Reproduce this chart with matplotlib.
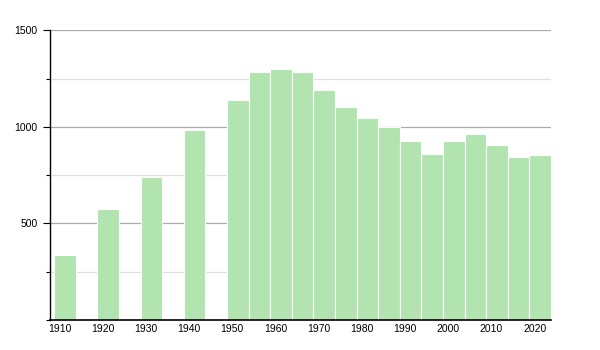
import matplotlib.pyplot as plt
from matplotlib.ticker import MultipleLocator

# population by census year (bar covers year .. year+5)
years = [1910, 1920, 1930, 1940, 1950, 1955, 1960, 1965, 1970, 1975, 1980,
         1985, 1990, 1995, 2000, 2005, 2010, 2015, 2020]
values = [338, 575, 741, 983, 1138, 1285, 1298, 1285, 1190, 1102, 1045,
          998, 926, 862, 926, 962, 905, 843, 854]
tick_years = [1910, 1920, 1930, 1940, 1950, 1960, 1970, 1980, 1990, 2000, 2010, 2020]

plt.rcParams['font.family'] = ['Liberation Sans', 'DejaVu Sans']

fig = plt.figure(figsize=(6, 3.5), dpi=100)
ax = fig.add_axes([0.0833, 0.0857, 0.835, 0.8277])

ax.bar(years, values, width=5, align='edge', color='#b2e4b0',
       edgecolor='white', linewidth=0.8, zorder=2)

ax.set_xlim(1909, 2025)
ax.set_ylim(0, 1500)

ax.yaxis.set_major_locator(MultipleLocator(500))
ax.yaxis.set_minor_locator(MultipleLocator(250))
ax.set_yticks([500, 1000, 1500])
ax.set_yticklabels(['500', '1000', '1500'])
ax.grid(axis='y', which='major', color='#aaaaaa', linewidth=0.9, zorder=0)
ax.grid(axis='y', which='minor', color='#e0e0e0', linewidth=0.9, zorder=0)

ax.set_xticks([y + 1.2 for y in tick_years])
ax.set_xticklabels([str(y) for y in tick_years])

ax.tick_params(axis='y', which='major', length=5, width=0.8, labelsize=7.5, pad=4)
ax.tick_params(axis='y', which='minor', length=3, width=0.8)
ax.tick_params(axis='x', length=0, labelsize=7.5, pad=3)

for side in ['top', 'right']:
    ax.spines[side].set_visible(False)
ax.spines['left'].set_linewidth(1.0)
ax.spines['bottom'].set_linewidth(1.2)
ax.set_axisbelow(True)

plt.savefig('out.png', dpi=100)
